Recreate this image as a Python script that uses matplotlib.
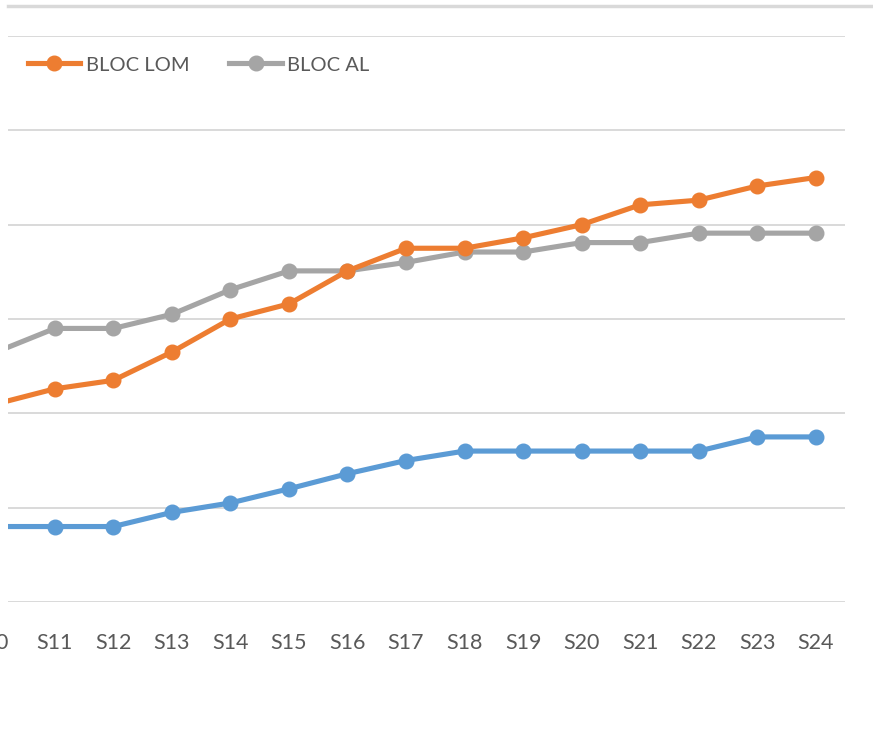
import matplotlib.pyplot as plt
from matplotlib.lines import Line2D

plt.rcParams['font.family'] = ['Lato', 'DejaVu Sans']

# Semaines visibles (S10 est coupé à gauche)
weeks = ['S10', 'S11', 'S12', 'S13', 'S14', 'S15', 'S16', 'S17',
         'S18', 'S19', 'S20', 'S21', 'S22', 'S23', 'S24']
bloc_lom = [2.10, 2.26, 2.35, 2.65, 3.00, 3.16, 3.51, 3.75,
            3.75, 3.86, 4.00, 4.21, 4.26, 4.41, 4.50]
bloc_al = [2.65, 2.90, 2.90, 3.05, 3.31, 3.51, 3.51, 3.60,
           3.71, 3.71, 3.81, 3.81, 3.91, 3.91, 3.91]
bloc_blue = [0.80, 0.80, 0.80, 0.95, 1.05, 1.20, 1.36, 1.50,
             1.60, 1.60, 1.60, 1.60, 1.60, 1.75, 1.75]

ORANGE = '#ED7D31'
GREY = '#A5A5A5'
BLUE = '#5B9BD5'
GRID = '#D9D9D9'
TEXT = '#595959'

fig = plt.figure(figsize=(8.73, 7.44), dpi=100)
ax = fig.add_axes([8 / 873, 1 - 602 / 744, 837 / 873, 566 / 744])

x = list(range(len(weeks)))
style = dict(lw=3.7, marker='o', markersize=10.5, solid_capstyle='round')
ax.plot(x, bloc_blue, color=BLUE, **style)
ax.plot(x, bloc_al, color=GREY, **style)
ax.plot(x, bloc_lom, color=ORANGE, **style)

ax.set_xlim(0.2, len(weeks) - 0.5)
ax.set_ylim(0, 6)
ax.set_yticks(range(0, 7))
ax.yaxis.grid(True, color=GRID, lw=1.4)
ax.set_axisbelow(True)
ax.tick_params(axis='y', left=False, labelleft=False)
ax.set_xticks(x[1:])
ax.set_xticklabels(weeks[1:])
ax.tick_params(axis='x', length=0, pad=22, labelsize=15.5, labelcolor=TEXT)
for s in ax.spines.values():
    s.set_visible(False)

# étiquette S10 partiellement hors du cadre (comme sur l'original)
ax.text(-0.1, -41 / 94.3, weeks[0], ha='center', va='center', fontsize=15.5,
        color=TEXT, clip_on=False)

# trait gris en haut de l'image
fig.add_artist(Line2D([8 / 873, 1], [1 - 6 / 744, 1 - 6 / 744],
                      color=GRID, lw=2.5, transform=fig.transFigure))

handles = [Line2D([], [], color=ORANGE, lw=3.7, marker='o', markersize=10.5),
           Line2D([], [], color=GREY, lw=3.7, marker='o', markersize=10.5)]
fig.legend(handles, ['BLOC LOM', 'BLOC AL'], loc='center left',
           bbox_to_anchor=(10 / 873, 1 - 65 / 744), ncol=2, frameon=False,
           fontsize=14.5, labelcolor=TEXT, handlelength=2.6,
           handletextpad=0.25, columnspacing=2.0)

fig.savefig('out.png', dpi=100)
